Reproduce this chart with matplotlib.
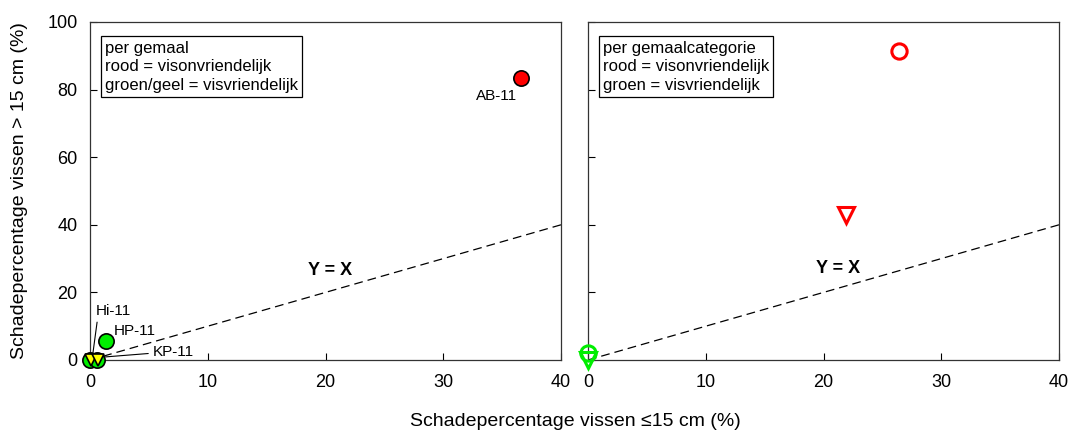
import matplotlib
matplotlib.use("Agg")
import matplotlib.pyplot as plt

plt.rcParams['font.family'] = ['Liberation Sans', 'DejaVu Sans']

# per gemaal (left panel)
circle_names = ["AB-11", "HP-11", "Hi-11", "KP-11"]
circle_x = [36.6, 1.4, 0.0, 0.6]
circle_y = [83.4, 5.6, 0.0, 0.0]
circle_colors = ["#ff0000", "#00ee00", "#00ee00", "#00ee00"]
tri_x = [0.1, 0.7]
tri_y = [0.0, 0.0]

# per gemaalcategorie (right panel)
cat_circle_x = [26.4, 0.0]
cat_circle_y = [91.4, 2.0]
cat_circle_colors = ["#ff0000", "#00ee00"]
cat_tri_x = [21.9, 0.0]
cat_tri_y = [42.9, 0.0]
cat_tri_colors = ["#ff0000", "#00ee00"]

xticks = [0, 10, 20, 30, 40]
yticks = [0, 20, 40, 60, 80, 100]
line_xy = [0, 40]

fig = plt.figure(figsize=(10.76, 4.33), dpi=100)
ax1 = fig.add_axes([90 / 1076, 73 / 433, 471 / 1076, 338 / 433])
ax2 = fig.add_axes([588 / 1076, 73 / 433, 471 / 1076, 338 / 433])

for ax in (ax1, ax2):
    ax.set_xlim(0, 40)
    ax.set_ylim(0, 100)
    ax.set_xticks(xticks)
    ax.set_yticks(yticks)
    ax.tick_params(direction="in", length=5, labelsize=13, width=0.8)
    ax.tick_params(axis="x", pad=10)
    ax.tick_params(axis="y", pad=9)
    ax.plot(line_xy, line_xy, color="black", lw=0.9, dashes=(7, 4))
    for s in ax.spines.values():
        s.set_linewidth(0.9)
        s.set_color("#333333")

ax2.set_yticklabels([])

# left panel
for x, y, c in zip(circle_x, circle_y, circle_colors):
    ax1.plot(x, y, "o", ms=11, mfc=c, mec="black", mew=1.2, clip_on=False, zorder=5)
ax1.plot(tri_x, tri_y, "v", ms=9, mfc="#ffff00", mec="black", mew=1.2,
         ls="none", clip_on=False, zorder=6)

ax1.annotate(circle_names[0], xy=(circle_x[0], circle_y[0]), xytext=(36.3, 78.0),
             fontsize=11, ha="right", va="center")
ax1.annotate(circle_names[1], xy=(circle_x[1], circle_y[1]), xytext=(2.0, 8.5),
             fontsize=11, ha="left", va="center")
ax1.annotate(circle_names[2], xy=(0.2, 0.8), xytext=(0.5, 14.5),
             fontsize=11, ha="left", va="center",
             arrowprops=dict(arrowstyle="-", lw=0.8, color="black",
                             shrinkA=1, shrinkB=0, relpos=(0.05, 0.0)))
ax1.annotate(circle_names[3], xy=(0.9, 0.8), xytext=(5.3, 2.5),
             fontsize=11, ha="left", va="center",
             arrowprops=dict(arrowstyle="-", lw=0.8, color="black",
                             shrinkA=1, shrinkB=0))
ax1.text(20.4, 26.5, "Y = X", fontsize=13, fontweight="bold", ha="center", va="center")
ax1.text(0.032, 0.945, "per gemaal\nrood = visonvriendelijk\ngroen/geel = visvriendelijk",
         transform=ax1.transAxes, fontsize=12, va="top", ha="left", linespacing=1.3,
         bbox=dict(boxstyle="square,pad=0.25", fc="white", ec="black", lw=0.9))

# right panel
for x, y, c in zip(cat_circle_x, cat_circle_y, cat_circle_colors):
    ax2.plot(x, y, "o", ms=11, mfc="none", mec=c, mew=2.2, clip_on=False, zorder=5)
for x, y, c in zip(cat_tri_x, cat_tri_y, cat_tri_colors):
    ax2.plot(x, y, "v", ms=11, mfc="none", mec=c, mew=2.2, clip_on=False, zorder=5)
ax2.text(21.2, 27, "Y = X", fontsize=13, fontweight="bold", ha="center", va="center")
ax2.text(0.032, 0.945, "per gemaalcategorie\nrood = visonvriendelijk\ngroen = visvriendelijk",
         transform=ax2.transAxes, fontsize=12, va="top", ha="left", linespacing=1.3,
         bbox=dict(boxstyle="square,pad=0.25", fc="white", ec="black", lw=0.9))

fig.text(20 / 1076, 0.56, "Schadepercentage vissen > 15 cm (%)", fontsize=14,
         rotation=90, ha="center", va="center")
fig.text(575 / 1076, 11 / 433, "Schadepercentage vissen \u226415 cm (%)",
         fontsize=14, ha="center", va="center")

fig.savefig("out.png", dpi=100)
